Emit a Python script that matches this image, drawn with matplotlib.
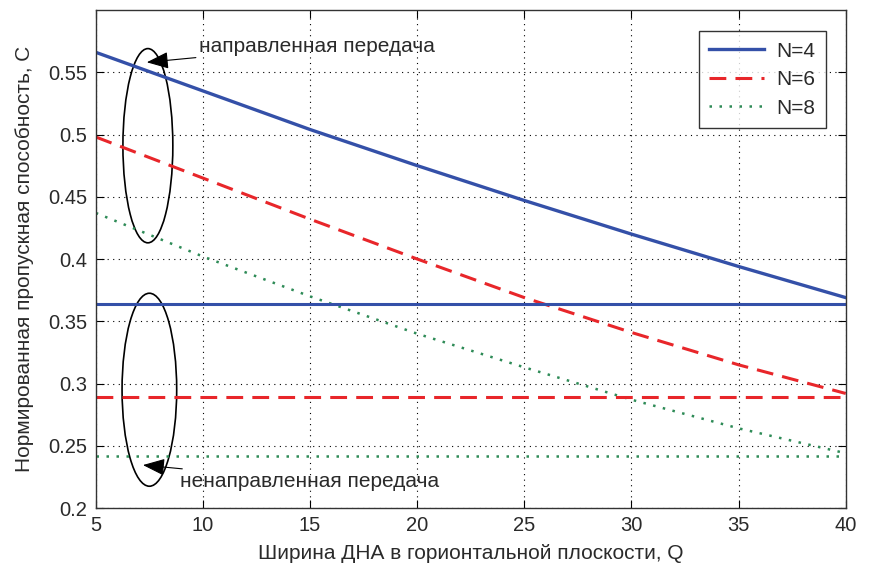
import matplotlib
matplotlib.use("Agg")
import matplotlib.pyplot as plt
from matplotlib.patches import Ellipse

# ── data ──────────────────────────────────────────────────────────────────
q = [5, 10, 15, 20, 25, 30, 35, 40]
c_dir_n4 = [0.566, 0.535, 0.504, 0.475, 0.447, 0.420, 0.394, 0.369]
c_dir_n6 = [0.498, 0.465, 0.432, 0.400, 0.369, 0.341, 0.315, 0.292]
c_dir_n8 = [0.437, 0.402, 0.370, 0.340, 0.313, 0.287, 0.264, 0.244]
c_omni_n4 = 0.364
c_omni_n6 = 0.289
c_omni_n8 = 0.242

labels = ["N=4", "N=6", "N=8"]
xticks = [5, 10, 15, 20, 25, 30, 35, 40]
yticks = [0.2, 0.25, 0.3, 0.35, 0.4, 0.45, 0.5, 0.55]

BLUE = "#3450a8"
RED = "#e8262a"
GREEN = "#2e8b57"
TEXT = "#2a2a2a"

plt.rcParams["font.family"] = ["Liberation Sans", "DejaVu Sans"]

fig = plt.figure(figsize=(8.71, 5.68), dpi=100)
ax = fig.add_axes([0.110, 0.1056, 0.861, 0.8768])

ax.plot(q, c_dir_n4, color=BLUE, lw=2.4, ls="-", label=labels[0])
ax.plot(q, c_dir_n6, color=RED, lw=2.2, ls=(0, (5.5, 3)), label=labels[1])
ax.plot(q, c_dir_n8, color=GREEN, lw=1.8, ls=(0, (1, 3)), label=labels[2])

ax.plot([q[0], q[-1]], [c_omni_n4] * 2, color=BLUE, lw=2.2, ls="-")
ax.plot([q[0], q[-1]], [c_omni_n6] * 2, color=RED, lw=2.2, ls=(0, (5.5, 3)))
ax.plot([q[0], q[-1]], [c_omni_n8] * 2, color=GREEN, lw=1.8, ls=(0, (1, 3)))

ax.set_xlim(5, 40)
ax.set_ylim(0.2, 0.6)
ax.set_xticks(xticks)
ax.set_yticks(yticks)
ax.set_xticklabels([str(t) for t in xticks])
ax.set_yticklabels([f"{t:g}" for t in yticks])
ax.tick_params(direction="in", length=6, labelsize=14.5, top=True, right=True,
               pad=6, labelcolor=TEXT)
ax.grid(True, color="black", ls=(0, (1, 4)), lw=0.8)
for s in ax.spines.values():
    s.set_linewidth(1.0)
    s.set_color("#333333")

ax.set_xlabel("Ширина ДНА в горионтальной плоскости, Q", fontsize=15,
              color=TEXT, labelpad=6)
ax.set_ylabel("Нормированная пропускная способность, С", fontsize=15,
              color=TEXT, labelpad=10)

# ellipses grouping the curves
ax.add_patch(Ellipse((7.43, 0.491), 2.33, 0.156, fill=False, ec="black",
                     lw=1.2))
ax.add_patch(Ellipse((7.5, 0.295), 2.55, 0.155, fill=False, ec="black",
                     lw=1.2))

arrow = dict(arrowstyle="-|>,head_length=0.9,head_width=0.35", color="black",
             lw=0.8, shrinkA=0, shrinkB=0)
ax.annotate("направленная передача", xy=(7.38, 0.558), xytext=(9.8, 0.571),
            fontsize=15, va="center", ha="left", color=TEXT, arrowprops=arrow)
ax.annotate("ненаправленная передача", xy=(7.2, 0.2345), xytext=(8.95, 0.2216),
            fontsize=15, va="center", ha="left", color=TEXT, arrowprops=arrow)

leg = ax.legend(loc="upper right", fontsize=15, frameon=True, fancybox=False,
                borderpad=0.5, handlelength=2.6, labelspacing=0.45,
                handletextpad=0.6, bbox_to_anchor=(0.987, 0.978))
leg.get_frame().set_edgecolor("black")
leg.get_frame().set_linewidth(1.0)
for t in leg.get_texts():
    t.set_color(TEXT)

fig.savefig("out.png", dpi=100)
